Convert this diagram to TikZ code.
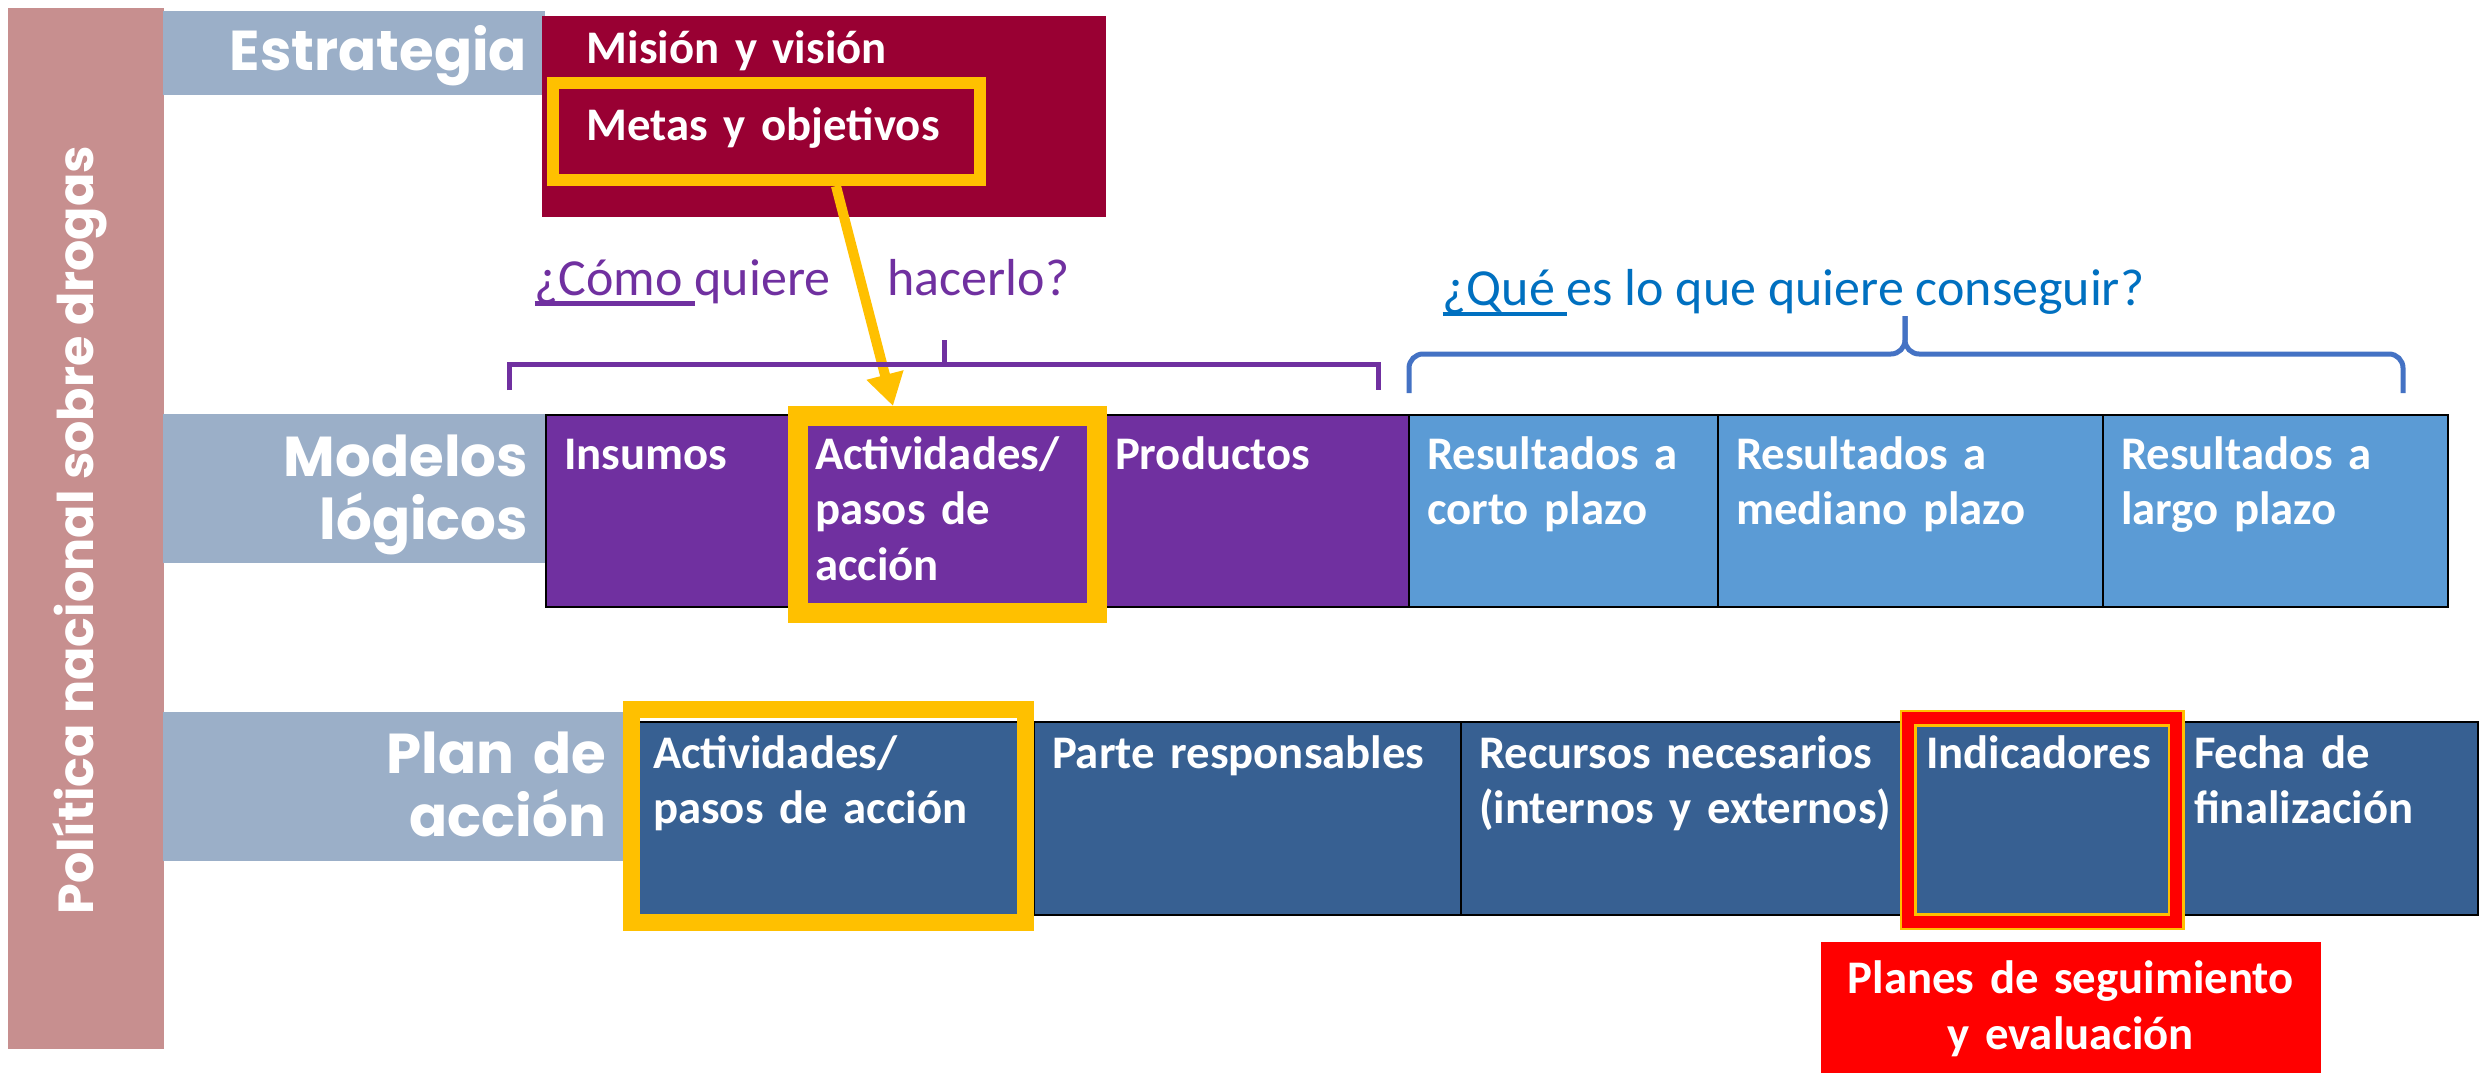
\documentclass[tikz,border=0pt]{standalone}
\usepackage{fontspec}
\setmainfont{Carlito}
\newfontfamily\headfont{Poppins}
\usetikzlibrary{positioning, arrows.meta}
\hyphenpenalty=10000
\exhyphenpenalty=10000

\definecolor{rosebar}{RGB}{199, 143, 143}
\definecolor{labelgray}{RGB}{155, 175, 200}
\definecolor{strategyred}{RGB}{153, 0, 51}
\definecolor{hlyellow}{RGB}{255, 192, 0}
\definecolor{logicpurple}{RGB}{112, 48, 160}
\definecolor{resultblue}{RGB}{91, 155, 213}
\definecolor{planblue}{RGB}{55, 96, 146}
\definecolor{askblue}{RGB}{0, 112, 192}
\definecolor{braceblue}{RGB}{68, 114, 196}

\newcommand{\cellfont}{\bfseries\fontsize{13.3}{15.9}\selectfont}
\newcommand{\rowfont}{\headfont\bfseries\fontsize{16}{18}\selectfont}
\newcommand{\askfont}{\fontsize{14.8}{17}\selectfont}
\newcommand{\askline}[1]{\setbox0\hbox{#1}\rlap{\rule[-0.11cm]{\wd0}{0.045cm}}\box0}

\tikzset{
  boxw/.code={\pgfmathsetlengthmacro\boxtw{#1cm-0.36cm}\tikzset{minimum width=#1cm, text width/.expanded=\boxtw}},
  rowlabel/.style={fill=labelgray, text=white, font=\rowfont, align=right, anchor=north west,
    inner xsep=0.18cm, inner ysep=0pt, outer sep=0pt},
  cell/.style={draw=black, line width=0.6pt, text=white, font=\cellfont, align=left,
    inner xsep=0.18cm, inner ysep=0pt, outer sep=0pt},
  modcell/.style={cell, fill=logicpurple, text height=0.54cm, text depth=1.38cm},
  rescell/.style={modcell, fill=resultblue},
  plancell/.style={cell, fill=planblue, text height=0.46cm, text depth=1.47cm},
  hlbox/.style={draw=hlyellow, anchor=north west, inner sep=0pt, outer sep=0pt},
  bracketline/.style={draw=logicpurple, line width=0.05cm},
  braceline/.style={draw=braceblue, line width=0.05cm, rounded corners=4pt},
  hlarrow/.style={draw=hlyellow, line width=0.1cm, -{Triangle[length=0.32cm, width=0.36cm]}},
}

\begin{document}
\begin{tikzpicture}
  \path[use as bounding box, fill=white] (0,0) rectangle (24.83,-10.74);

  % side bar
  \node[fill=rosebar, anchor=north west, minimum width=1.56cm, minimum height=10.41cm, inner sep=0pt] (policybar) at (0.07,-0.07) {};
  \node[rotate=90, text=white, font=\headfont\bfseries\fontsize{14}{16}\selectfont] (policy) at (0.80,-5.30) {Política nacional sobre drogas};

  % row labels
  \node[rowlabel, boxw=3.82, text height=0.60cm, text depth=0.24cm] (estrlabel) at (1.63,-0.11) {Estrategia};
  \node[rowlabel, boxw=3.83, text height=0.62cm, text depth=0.87cm] (modlabel) at (1.63,-4.14) {Modelos\\lógicos};
  \node[rowlabel, boxw=4.61, text height=0.61cm, text depth=0.88cm] (planlabel) at (1.63,-7.12) {Plan de\\acción};

  % strategy
  \node[fill=strategyred, text=white, font=\cellfont, align=left, anchor=north west, inner xsep=0.45cm, inner ysep=0pt,
    minimum width=5.64cm, text width=4.74cm, text height=0.48cm, text depth=1.53cm] (estrbox) at (5.41,-0.15)
    {Misión y visión\\[0.21cm]Metas y objetivos};
  \node[hlbox, line width=0.12cm, minimum width=4.27cm, minimum height=0.97cm] (metashl) at (5.53,-0.83) {};

  % logic model row
  \node[modcell, boxw=2.51, anchor=north west] (ins) at (5.46,-4.15) {Insumos};
  \node[modcell, boxw=3.00, right=0pt of ins] (actm) {Actividades/\\pasos de\\acción};
  \node[modcell, boxw=3.12, right=0pt of actm] (prod) {Productos};
  \node[rescell, boxw=3.09, right=0pt of prod] (rcorto) {Resultados a\\corto plazo};
  \node[rescell, boxw=3.85, right=0pt of rcorto] (rmed) {Resultados a\\mediano plazo};
  \node[rescell, boxw=3.45, right=0pt of rmed] (rlargo) {Resultados a\\largo plazo};

  % action plan row
  \node[plancell, boxw=3.99, anchor=north west] (actp) at (6.35,-7.22) {Actividades/\\pasos de acción};
  \node[plancell, boxw=4.27, right=0pt of actp] (parte) {Parte responsables};
  \node[plancell, boxw=4.47, right=0pt of parte] (recur) {Recursos necesarios\\\mbox{(internos y externos)}};
  \node[plancell, boxw=2.68, right=0pt of recur] (indic) {Indicadores};
  \node[plancell, boxw=3.02, right=0pt of indic] (fecha) {Fecha de\\finalización};

  % highlights
  \node[hlbox, line width=0.2cm, minimum width=2.99cm, minimum height=1.97cm] (actmhl) at (7.98,-4.16) {};
  \node[hlbox, line width=0.17cm, minimum width=3.94cm, minimum height=2.13cm] (actphl) at (6.315,-7.09) {};
  \node[hlbox, line width=0.025cm, double=red, double distance=0.12cm, minimum width=2.68cm, minimum height=2.035cm] (indhl) at (19.08,-7.18) {};

  \draw[hlarrow] ([xshift=0.695cm, yshift=-0.06cm]metashl.south) -- ([xshift=-0.545cm, yshift=0.1cm]actmhl.north);

  % questions
  \node[anchor=base west, inner sep=0pt, text=logicpurple, font=\askfont] (howask) at (5.34,-2.95)
    {\askline{¿Cómo\ }quiere\hspace{0.57cm}hacerlo?};
  \node[anchor=base west, inner sep=0pt, text=askblue, font=\askfont] (whatask) at (14.42,-3.05)
    {\askline{¿Qué\ }es lo que quiere conseguir?};

  \draw[bracketline] (5.09,-3.90) |- (13.78,-3.64) -- (13.78,-3.90);
  \draw[bracketline] (9.44,-3.64) -- (9.44,-3.40);
  \draw[braceline] (14.09,-3.93) |- (19.05,-3.54) -- (19.05,-3.16);
  \draw[braceline] (19.05,-3.16) -- (19.05,-3.54) -| (24.03,-3.93);

  % monitoring
  \node[fill=red, text=white, font=\cellfont, align=center, anchor=north west, boxw=5.0, inner xsep=0.18cm, inner ysep=0pt,
    text height=0.52cm, text depth=0.79cm] (planes) at (18.20,-9.41) {Planes de seguimiento\\y evaluación};
\end{tikzpicture}
\end{document}
